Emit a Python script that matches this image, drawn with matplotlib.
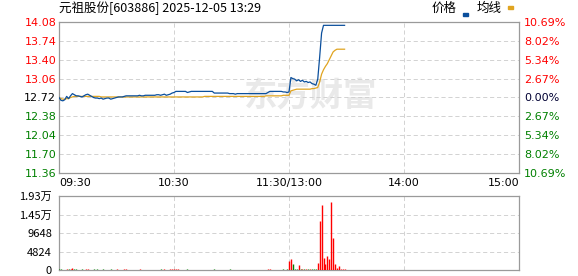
import matplotlib
matplotlib.use('Agg')
import matplotlib.pyplot as plt
from matplotlib.patches import Rectangle

plt.rcParams['font.family'] = ['DejaVu Sans']
plt.rcParams['lines.scale_dashes'] = False

# 分时数据（09:30-11:30 共121点，13:01-13:29 共29点）
price_am = [12.72, 12.67, 12.66, 12.68, 12.74, 12.70, 12.75, 12.79, 12.77, 12.75, 12.75,
            12.74, 12.73, 12.75, 12.77, 12.78, 12.76, 12.74, 12.72, 12.71, 12.71,
            12.70, 12.71, 12.69, 12.70, 12.71, 12.71, 12.69, 12.70, 12.71, 12.72,
            12.73, 12.73, 12.73, 12.74, 12.75, 12.75, 12.75, 12.75, 12.75, 12.75,
            12.75, 12.76, 12.75, 12.75, 12.76, 12.76, 12.76, 12.76, 12.76, 12.76,
            12.77, 12.77, 12.76, 12.77, 12.78, 12.76, 12.77, 12.78, 12.80, 12.81,
            12.83, 12.83, 12.83, 12.83, 12.83, 12.83, 12.81, 12.82, 12.83, 12.83,
            12.83, 12.83, 12.83, 12.83, 12.83, 12.83, 12.83, 12.83, 12.83, 12.83,
            12.80, 12.80, 12.80, 12.80, 12.80, 12.80, 12.80, 12.80, 12.79, 12.79,
            12.79, 12.78, 12.79, 12.79, 12.79, 12.79, 12.79, 12.79, 12.79, 12.79,
            12.79, 12.79, 12.79, 12.79, 12.79, 12.79, 12.79, 12.79, 12.81, 12.83,
            12.83, 12.83, 12.83, 12.83, 12.83, 12.83, 12.82, 12.82, 12.81, 12.82]
price_pm = [13.08, 13.06, 13.05, 13.02, 13.04, 13.01, 13.03, 13.00, 13.01, 12.99,
            13.00, 12.97, 12.96, 12.94, 13.05, 13.45, 13.88, 14.02, 14.02, 14.02,
            14.02, 14.02, 14.02, 14.02, 14.02, 14.02, 14.02, 14.02, 14.02]

avg_am = [12.72, 12.70, 12.69, 12.69, 12.70, 12.70, 12.72, 12.73, 12.74, 12.74, 12.74,
          12.74, 12.74, 12.74, 12.74, 12.74, 12.74, 12.74, 12.74, 12.74, 12.74,
          12.74, 12.73, 12.73, 12.73, 12.73, 12.73, 12.73, 12.73, 12.73, 12.73,
          12.73, 12.73, 12.73, 12.73, 12.73, 12.73, 12.73, 12.73, 12.73, 12.73,
          12.73, 12.73, 12.73, 12.73, 12.73, 12.73, 12.73, 12.73, 12.73, 12.73,
          12.73, 12.73, 12.73, 12.73, 12.73, 12.73, 12.73, 12.73, 12.73, 12.73,
          12.73, 12.73, 12.73, 12.73, 12.73, 12.73, 12.73, 12.73, 12.73, 12.73,
          12.73, 12.73, 12.73, 12.73, 12.73, 12.74, 12.74, 12.74, 12.74, 12.74,
          12.74, 12.74, 12.74, 12.74, 12.74, 12.74, 12.74, 12.74, 12.74, 12.74,
          12.74, 12.74, 12.74, 12.74, 12.74, 12.74, 12.74, 12.74, 12.74, 12.74,
          12.74, 12.74, 12.74, 12.74, 12.74, 12.74, 12.74, 12.75, 12.75, 12.75,
          12.75, 12.75, 12.75, 12.75, 12.75, 12.75, 12.76, 12.76, 12.76, 12.76]
avg_pm = [12.84, 12.85, 12.86, 12.87, 12.87, 12.87, 12.87, 12.87, 12.87, 12.87,
          12.87, 12.88, 12.88, 12.89, 12.90, 13.00, 13.14, 13.22, 13.28, 13.33,
          13.40, 13.47, 13.54, 13.57, 13.59, 13.59, 13.59, 13.59, 13.59]

vol_am = [320, 150, 120, 110, 180, 140, 160, 520, 200, 150, 130,
          120, 140, 110, 160, 180, 130, 120, 150, 110, 140,
          120, 100, 150, 110, 130, 120, 140, 110, 120, 150,
          130, 110, 120, 140, 150, 120, 110, 130, 120, 110,
          120, 140, 110, 120, 130, 110, 120, 110, 100, 120,
          130, 120, 140, 120, 150, 130, 120, 140, 160, 180,
          200, 150, 120, 110, 130, 120, 140, 120, 110, 130,
          110, 120, 100, 120, 110, 130, 110, 120, 100, 110,
          150, 130, 120, 110, 120, 110, 130, 120, 140, 110,
          120, 130, 110, 120, 110, 100, 120, 110, 130, 120,
          110, 120, 100, 110, 120, 110, 130, 120, 160, 180,
          130, 120, 110, 120, 130, 110, 140, 130, 150, 2350]
vol_pm = [2870, 1560, 220, 180, 1300, 200, 150, 180, 160, 200,
          170, 150, 180, 200, 1910, 12780, 16950, 3130, 1560, 3650,
          2870, 17800, 8340, 1560, 600, 1040, 260, 260, 150]

prev_close = 12.72
price_ticks = [14.08, 13.74, 13.40, 13.06, 12.72, 12.38, 12.04, 11.70, 11.36]
pct_labels = ['10.69%', '8.02%', '5.34%', '2.67%', '0.00%', '2.67%', '5.34%', '8.02%', '10.69%']
vol_ticks = [0, 4824, 9648, 14472, 19296]
vol_labels = ['0', '4824', '9648', '1.45万', '1.93万']
time_ticks = [0, 60, 120, 180, 240]
time_labels = ['09:30', '10:30', '11:30/13:00', '14:00', '15:00']

price = price_am + price_pm
avg = avg_am + avg_pm
vol = vol_am + vol_pm
idx = list(range(len(price)))

RED = '#ff0000'
GREEN = '#008000'
FRAME = '#9a9a9a'
GRID = '#d2d2d2'
cjk = ['Noto Sans CJK SC', 'DejaVu Sans']

W, H = 578, 276
fig = plt.figure(figsize=(W / 100, H / 100), dpi=100)

def box(l, t, r, b):
    return [l / W, 1 - b / H, (r - l) / W, (b - t) / H]

ax = fig.add_axes(box(59, 22, 519, 173))
axv = fig.add_axes(box(59, 196, 519, 270))

for a in (ax, axv):
    a.set_xlim(0, 240)
    for s in a.spines.values():
        s.set_color(FRAME)
        s.set_linewidth(0.9)
    a.tick_params(length=0)
    a.set_xticks(time_ticks)
    a.grid(True, color=GRID, linestyle=(0, (3, 2)), linewidth=0.7)
    a.set_axisbelow(True)

# 价格主图
ax.set_ylim(price_ticks[-1], price_ticks[0])
ax.set_yticks(price_ticks)
ax.set_yticklabels(['%.2f' % v for v in price_ticks], fontsize=8)
ax.tick_params(axis='y', pad=2)
for lab, v in zip(ax.get_yticklabels(), price_ticks):
    lab.set_color(RED if v > prev_close else (GREEN if v < prev_close else 'black'))
ax.set_xticklabels(time_labels, fontsize=8)
ax.tick_params(axis='x', pad=3.5)
xl = ax.get_xticklabels()
xl[0].set_horizontalalignment('left')
xl[-1].set_horizontalalignment('right')

# 水印
ax.text(131, 12.72, '东方财富', fontsize=24, fontweight='bold', color='#e9e9e9',
        family=cjk, ha='center', va='center', zorder=0, style='italic')

ax.plot(idx, avg, color='#e0a420', lw=0.9, zorder=3)
ax.plot(idx, price, color='#0b4f9c', lw=0.9, zorder=4)

ax2 = ax.twinx()
ax2.set_ylim(ax.get_ylim())
ax2.set_yticks(price_ticks)
ax2.set_yticklabels(pct_labels, fontsize=8)
ax2.tick_params(length=0, pad=3.5)
for lab, v in zip(ax2.get_yticklabels(), price_ticks):
    lab.set_color(RED if v > prev_close else (GREEN if v < prev_close else '#000033'))
for s in ax2.spines.values():
    s.set_visible(False)

# 成交量副图：涨红跌绿，平盘沿用上一根颜色
colors = []
last = GREEN
prev = prev_close
for p in price:
    if p > prev:
        last = RED
    elif p < prev:
        last = GREEN
    colors.append(last)
    prev = p
axv.vlines(idx, 0, vol, colors=colors, linewidth=1.0, zorder=3)
axv.set_ylim(0, vol_ticks[-1])
axv.set_yticks(vol_ticks)
axv.set_yticklabels(vol_labels, fontsize=8, family=cjk)
axv.tick_params(axis='y', pad=5)
axv.set_xticklabels([])

# 标题与图例
fig.text(59 / W, 1 - 8.5 / H, '元祖股份[603886] 2025-12-05 13:29', fontsize=9,
         family=cjk, ha='left', va='center')
fig.text(432 / W, 1 - 8.5 / H, '价格', fontsize=9, family=cjk, ha='left', va='center')
fig.text(477 / W, 1 - 8.5 / H, '均线', fontsize=9, family=cjk, ha='left', va='center')
fig.patches.append(Rectangle((463 / W, 1 - 15.5 / H), 5 / W, 2.2 / H,
                             transform=fig.transFigure, color='#0b4f9c', figure=fig))
fig.patches.append(Rectangle((508 / W, 1 - 8.5 / H), 5 / W, 2.2 / H,
                             transform=fig.transFigure, color='#e0a420', figure=fig))

fig.savefig('out.png', dpi=100)
